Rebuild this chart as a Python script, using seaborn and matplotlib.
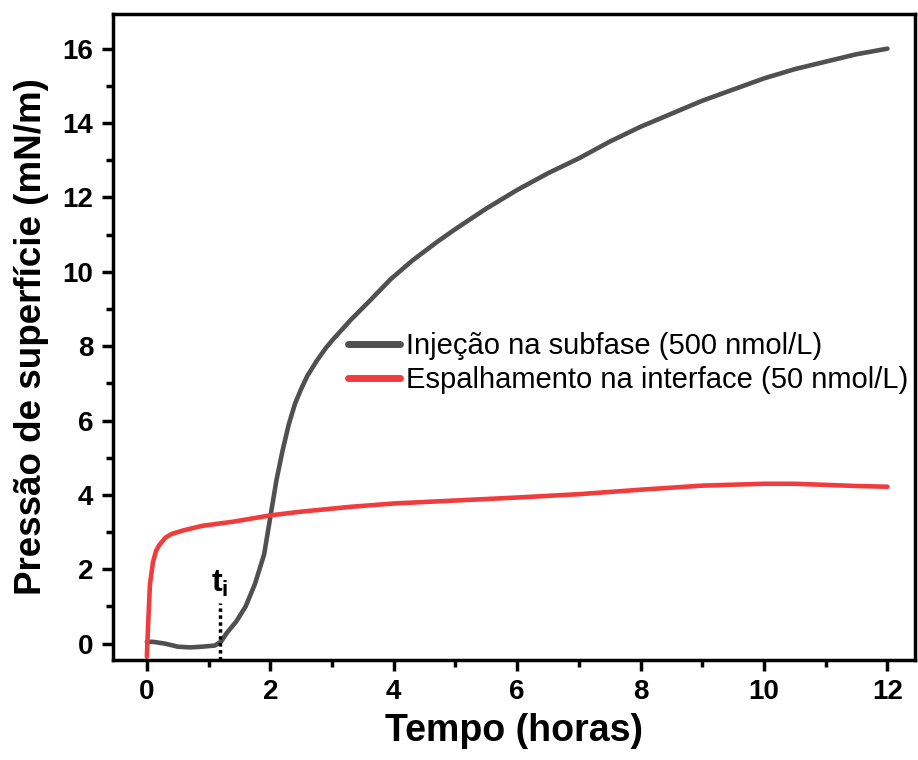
import matplotlib
matplotlib.use("Agg")
import matplotlib.pyplot as plt
from matplotlib.ticker import MultipleLocator
import pandas as pd
import seaborn as sns

# Injection into the subphase (black curve)
t_sub = [0, 0.1, 0.3, 0.5, 0.7, 0.9, 1.1, 1.2, 1.3, 1.45, 1.6, 1.75, 1.9, 2.0, 2.1,
         2.2, 2.3, 2.4, 2.5, 2.6, 2.75, 2.9, 3.0, 3.3, 3.6, 3.95, 4.3, 4.7, 5.0,
         5.5, 6.0, 6.5, 7.0, 7.5, 8.0, 8.5, 9.0, 9.5, 10.0, 10.5, 11.0, 11.5, 12.0]
p_sub = [0.05, 0.05, 0.0, -0.08, -0.1, -0.08, -0.05, 0.05, 0.3, 0.6, 1.0, 1.6, 2.4,
         3.4, 4.4, 5.2, 5.9, 6.45, 6.85, 7.2, 7.6, 7.95, 8.15, 8.7, 9.2, 9.8, 10.3,
         10.8, 11.15, 11.7, 12.2, 12.65, 13.05, 13.5, 13.9, 14.25, 14.6, 14.9, 15.2,
         15.45, 15.65, 15.85, 16.0]

# Spreading at the interface (red curve)
t_int = [0, 0.02, 0.05, 0.1, 0.15, 0.2, 0.3, 0.4, 0.6, 0.9, 1.4, 2.0, 2.5, 3.3,
         4.0, 5.0, 6.0, 7.0, 8.0, 9.0, 10.0, 10.5, 11.0, 11.5, 12.0]
p_int = [-0.35, 0.5, 1.6, 2.2, 2.5, 2.65, 2.85, 2.95, 3.05, 3.17, 3.28, 3.45, 3.55,
         3.68, 3.77, 3.85, 3.93, 4.02, 4.14, 4.25, 4.3, 4.3, 4.27, 4.24, 4.22]

t_i = 1.18

sns.set_theme(style="ticks")
plt.rcParams["font.family"] = ["Liberation Sans", "DejaVu Sans"]
plt.rcParams["mathtext.fontset"] = "custom"
plt.rcParams["mathtext.bf"] = "Liberation Sans:bold"
plt.rcParams["mathtext.rm"] = "Liberation Sans"
for key in ["text.color", "axes.labelcolor", "xtick.color", "ytick.color"]:
    plt.rcParams[key] = "black"

df_sub = pd.DataFrame({"t": t_sub, "p": p_sub})
df_int = pd.DataFrame({"t": t_int, "p": p_int})

fig = plt.figure(figsize=(9.18, 7.6), dpi=100)
ax = fig.add_axes([0.123, 0.132, 0.874, 0.850])

sns.lineplot(data=df_sub, x="t", y="p", ax=ax, color="#505050", lw=3.3,
             label="Injeção na subfase (500 nmol/L)", sort=False,
             solid_joinstyle="round", solid_capstyle="round")
sns.lineplot(data=df_int, x="t", y="p", ax=ax, color="#f03c3c", lw=3.3,
             label="Espalhamento na interface (50 nmol/L)", sort=False,
             solid_joinstyle="round", solid_capstyle="round")

# t_i marker
ax.plot([t_i, t_i], [-0.45, 1.1], color="black", lw=2.5, ls=(0, (1, 1)))
ax.text(t_i, 1.2, r"$\mathbf{t_i}$", ha="center", va="bottom", fontsize=23)

ax.set_xlim(-0.55, 12.45)
ax.set_ylim(-0.43, 16.94)
ax.xaxis.set_major_locator(MultipleLocator(2))
ax.xaxis.set_minor_locator(MultipleLocator(1))
ax.yaxis.set_major_locator(MultipleLocator(2))
ax.yaxis.set_minor_locator(MultipleLocator(1))

for s in ax.spines.values():
    s.set_linewidth(2.5)
    s.set_color("black")
ax.tick_params(which="major", length=8, width=2.5, labelsize=20, pad=6, direction="out")
ax.tick_params(which="minor", length=5, width=2.5, direction="out")
for lab in ax.get_xticklabels() + ax.get_yticklabels():
    lab.set_fontweight("bold")

ax.set_xlabel("Tempo (horas)", fontsize=27, fontweight="bold", labelpad=6)
ax.set_ylabel("Pressão de superfície (mN/m)", fontsize=26.5, fontweight="bold", labelpad=10)

leg = ax.legend(loc="upper left", bbox_to_anchor=(0.278, 0.525), frameon=False,
                fontsize=21, handlelength=1.8, handletextpad=0.2, labelspacing=0.2,
                borderaxespad=0)
for h in leg.get_lines():
    h.set_linewidth(5)
    h.set_solid_capstyle("round")

fig.savefig("out.png", dpi=100)
